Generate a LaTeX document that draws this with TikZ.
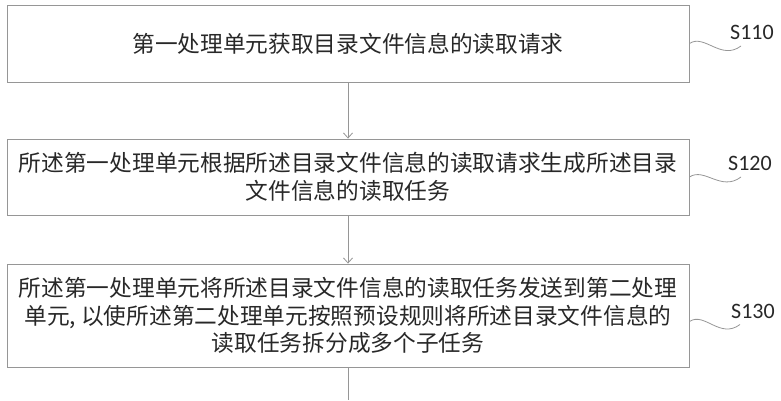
\documentclass[tikz,border=0pt]{standalone}
\usepackage{fontspec}
\newfontfamily\cjk{Noto Sans CJK SC}
\newfontfamily\lbl{Carlito}
\usetikzlibrary{arrows.meta}
\definecolor{edgegray}{RGB}{150,150,150}
\definecolor{txtgray}{RGB}{40,40,40}
\begin{document}
\begin{tikzpicture}[x=1pt,y=-1pt,>={Straight Barb[length=5pt,width=9pt]},
    stepbox/.style={draw=edgegray,line width=0.9pt,minimum width=682pt,align=center,
      text=txtgray,font=\cjk\fontsize{22.7}{27.5}\selectfont},
    steplabel/.style={inner sep=0pt,text=txtgray,font=\lbl\fontsize{22}{22}\selectfont},
    flow/.style={draw=edgegray,line width=0.8pt}]
    \useasboundingbox (0,0) rectangle (781,400);
    \node[stepbox,minimum height=77pt] (s110) at (348,43.5) {第一处理单元获取目录文件信息的读取请求};
    \node[stepbox,minimum height=76pt] (s120) at (348,177) {所述第一处理单元根据所述目录文件信息的读取请求生成所述目录\\文件信息的读取任务};
    \node[stepbox,minimum height=103pt] (s130) at (348,315.5) {所述第一处理单元将所述目录文件信息的读取任务发送到第二处理\\单元, 以使所述第二处理单元按照预设规则将所述目录文件信息的\\读取任务拆分成多个子任务};
    \coordinate (out) at (348,400);
    \draw[flow,->] (s110) -- (s120);
    \draw[flow,->] (s120) -- (s130);
    \draw[flow] (s130) -- (out);
    \node[steplabel] (l110) at (752,32) {S110};
    \node[steplabel] (l120) at (750,163) {S120};
    \node[steplabel] (l130) at (753,311.5) {S130};
    \draw[flow] (s110.east) .. controls +(15,-10) and +(-20,15) .. ([xshift=-11pt,yshift=-14pt]l110.center);
    \draw[flow] (s120.east) .. controls +(15,-10) and +(-20,15) .. ([xshift=-9pt,yshift=-14pt]l120.center);
    \draw[flow] ([yshift=-6pt]s130.east) .. controls +(15,-10) and +(-20,15) .. ([xshift=-13pt,yshift=-13pt]l130.center);
  \end{tikzpicture}
\end{document}
